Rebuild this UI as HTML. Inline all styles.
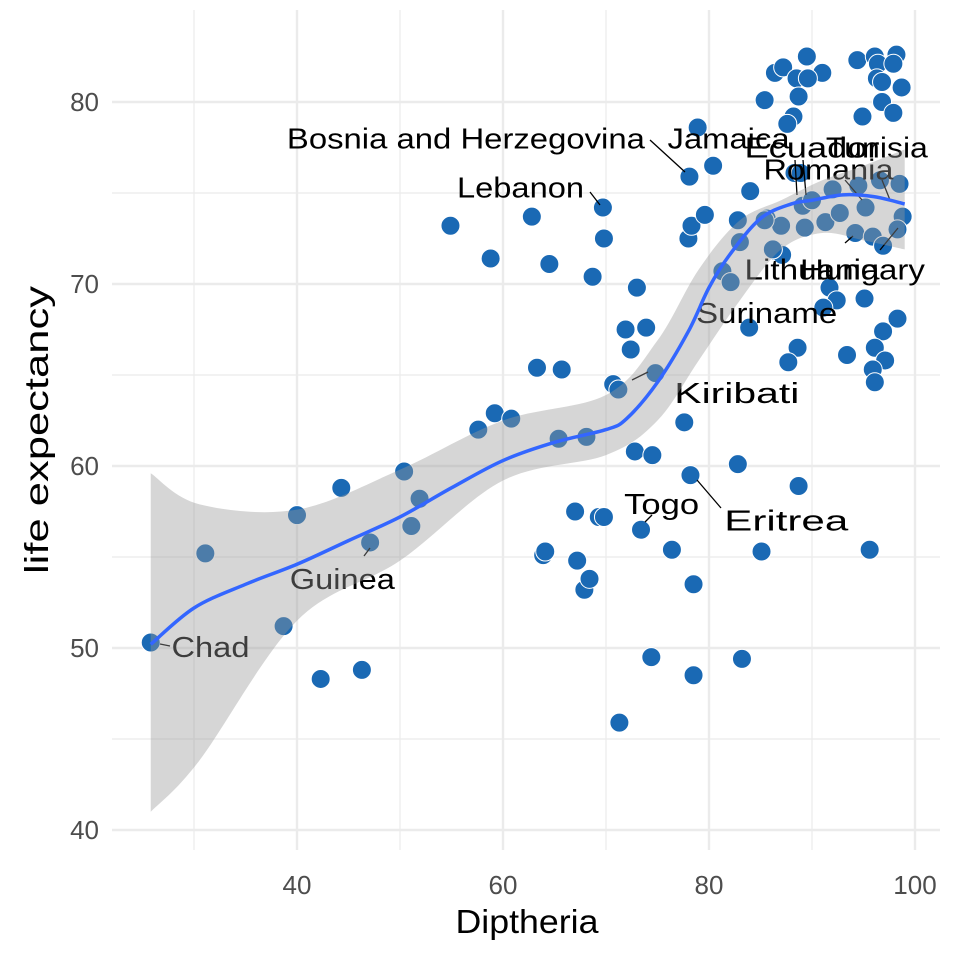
<!DOCTYPE html>
<html><head><meta charset="utf-8"><style>
html,body{margin:0;padding:0;background:#fff;}
svg{display:block;font-family:"Liberation Sans",Arial,sans-serif;}
</style></head><body>
<svg id="chart" width="960" height="960" viewBox="0 0 960 960">
<g id="grid"></g>
<g id="pts"></g>
<g id="labs"></g>
<g id="smooth"></g>
<g id="axes"></g>
<text x="527" y="933" font-size="33" text-anchor="middle" fill="#000" textLength="143" lengthAdjust="spacingAndGlyphs">Diptheria</text>
<text x="0" y="0" font-size="33" text-anchor="middle" fill="#000" textLength="288" lengthAdjust="spacingAndGlyphs" transform="translate(48,430) rotate(-90)">life expectancy</text>
</svg>
<script>
const xTicks=[40,60,80,100];
const yTicks=[40,50,60,70,80];
const xMinor=[30,50,70,90];
const yMinor=[45,55,65,75];
const ptX=[25.8,31.1,40.0,38.7,42.3,44.3,46.3,47.1,50.4,51.1,51.9,54.9,57.6,58.8,59.2,60.8,62.8,63.3,63.9,64.1,64.5,65.4,65.7,67.0,67.2,67.9,68.1,68.4,68.7,69.7,69.3,69.8,69.8,70.7,71.2,71.3,71.9,72.4,72.8,73.0,73.4,73.9,74.5,74.4,74.8,76.4,77.6,78.1,78.0,78.3,78.2,78.5,78.5,78.9,79.6,80.4,81.3,82.1,82.8,82.8,83.0,83.2,83.9,84.0,85.1,85.6,86.5,87.0,87.1,88.3,88.7,89.1,89.5,86.4,87.2,91.0,88.5,89.6,85.4,88.7,88.2,87.6,94.4,96.1,98.2,96.4,97.9,96.3,96.8,98.7,96.8,97.9,94.9,85.4,89.3,91.3,92.7,94.2,95.9,96.9,98.8,98.3,86.2,91.7,92.4,95.1,91.1,98.3,96.9,96.1,88.6,97.1,93.4,87.7,95.9,96.1,95.6,92.0,94.5,96.6,98.5,95.2,90.0,88.9];
const ptY=[50.3,55.2,57.3,51.2,48.3,58.8,48.8,55.8,59.7,56.7,58.2,73.2,62.0,71.4,62.9,62.6,73.7,65.4,55.1,55.3,71.1,61.5,65.3,57.5,54.8,53.2,61.6,53.8,70.4,74.2,57.2,57.2,72.5,64.5,64.2,45.9,67.5,66.4,60.8,69.8,56.5,67.6,60.6,49.5,65.1,55.4,62.4,75.9,72.5,73.2,59.5,53.5,48.5,78.6,73.8,76.5,70.7,70.1,73.5,60.1,72.3,49.4,67.6,75.1,55.3,73.6,71.8,73.2,71.6,76.1,58.9,74.3,82.5,81.6,81.9,81.6,81.3,81.3,80.1,80.3,79.2,78.8,82.3,82.5,82.6,82.1,82.1,81.3,81.1,80.8,80.0,79.4,79.2,73.5,73.1,73.4,73.9,72.8,72.6,72.1,73.7,73.0,71.9,69.8,69.1,69.2,68.7,68.1,67.4,66.5,66.5,65.8,66.1,65.7,65.3,64.6,55.4,75.2,75.4,75.7,75.5,74.2,74.6,76.1];
const fitX=[25.8,30,35,40,45,50,55,60,65,70,72,75,78,80,82,85,88,90,93,96,99];
const fitY=[50.2,52.2,53.5,54.6,55.9,57.2,58.8,60.3,61.3,62.0,62.6,64.6,67.4,69.8,71.6,73.6,74.4,74.6,74.9,74.8,74.4];
const bandX=[25.8,30.5,40,50,60,70,75,79,83,87,91,95,99];
const bandLo=[41.0,43.8,51.5,54.8,59.2,60.6,62.5,65.8,69.1,71.9,72.8,72.4,71.9];
const bandHi=[59.6,57.9,57.6,59.8,62.5,63.9,66.9,70.8,73.5,74.6,75.7,76.5,77.4];
const labelNames=["Bosnia and Herzegovina","Jamaica","Ecuador","Tunisia","Romania","Lebanon","Lithuania","Hungary","Suriname","Kiribati","Togo","Eritrea","Guinea","Chad"];
const labelX=[56.4,81.9,90.0,96.3,91.6,61.7,90.0,94.9,85.6,82.7,75.4,87.5,44.4,31.6];
const labelY=[78.0,78.0,77.5,77.5,76.3,75.3,70.8,70.8,68.4,64.0,57.9,57.0,53.8,50.05];
const labelW=[358,122,135,102,130,127,135,125,141,125,75,124,105,78];
const X=v=>297+(v-40)*10.3;
const Y=v=>102-(v-80)*18.2;
const NS="http://www.w3.org/2000/svg";
function mk(t,p,a){const e=document.createElementNS(NS,t);for(const k in a)e.setAttribute(k,a[k]);p.appendChild(e);return e;}
function curve(pts,move){let d=(move?'M':'L')+pts[0][0]+','+pts[0][1];
for(let i=0;i<pts.length-1;i++){const p0=pts[i-1]||pts[i],p1=pts[i],p2=pts[i+1],p3=pts[i+2]||p2;
d+=' C'+(p1[0]+(p2[0]-p0[0])/6)+','+(p1[1]+(p2[1]-p0[1])/6)+' '+(p2[0]-(p3[0]-p1[0])/6)+','+(p2[1]-(p3[1]-p1[1])/6)+' '+p2[0]+','+p2[1];}
return d;}
const grid=document.getElementById('grid');
xMinor.forEach(v=>{const l=mk('line',grid,{x1:X(v),x2:X(v),y1:10,y2:850,stroke:'#ebebeb','stroke-width':1.2});

});
yMinor.forEach(v=>{const l=mk('line',grid,{x1:112,x2:940,y1:Y(v),y2:Y(v),stroke:'#ebebeb','stroke-width':1.2});

});
xTicks.forEach(v=>{const l=mk('line',grid,{x1:X(v),x2:X(v),y1:10,y2:850,stroke:'#ebebeb','stroke-width':2.4});

});
yTicks.forEach(v=>{const l=mk('line',grid,{x1:112,x2:940,y1:Y(v),y2:Y(v),stroke:'#ebebeb','stroke-width':2.4});

});
const axes=document.getElementById('axes');
xTicks.forEach(v=>{const t=mk('text',axes,{x:X(v),y:894,'font-size':26,'text-anchor':'middle',fill:'#4d4d4d'});t.textContent=v;

});
yTicks.forEach(v=>{const t=mk('text',axes,{x:99,y:Y(v)+9,'font-size':26,'text-anchor':'end',fill:'#4d4d4d'});t.textContent=v;

});
const pts=document.getElementById('pts');
ptX.forEach((v,i)=>{const c=mk('circle',pts,{cx:X(v),cy:Y(ptY[i]),r:9.5,fill:'#1a69b4',stroke:'#fff','stroke-width':1});

});
const labs=document.getElementById('labs');
const segs=[[650,140,685,172],[590,192,600,205],[795,160,797,195],[803,160,806,195],[845,180,862,200],[882,180,890,200],[845,243,853,236],[880,250,898,228],[632,380,648,372],[645,522,652,515],[697,480,721,508],[370,548,364,556],[160,644,170,646]];
segs.forEach(s=>{const l=mk('line',labs,{x1:s[0],y1:s[1],x2:s[2],y2:s[3],stroke:'#000','stroke-width':1.3});

});
labelNames.forEach((n,i)=>{const t=mk('text',labs,{x:X(labelX[i]),y:Y(labelY[i])+10,'font-size':29,'text-anchor':'middle',fill:'#000',textLength:labelW[i],lengthAdjust:'spacingAndGlyphs'});t.textContent=n;

});
const sm=document.getElementById('smooth');
const hi=bandX.map((v,i)=>[X(v),Y(bandHi[i])]);
const lo=bandX.map((v,i)=>[X(v),Y(bandLo[i])]).reverse();
const band=mk('path',sm,{d:curve(hi,true)+' '+curve(lo,false)+'Z',fill:'rgba(153,153,153,0.4)',stroke:'none'});


const line=mk('path',sm,{d:curve(fitX.map((v,i)=>[X(v),Y(fitY[i])]),true),fill:'none',stroke:'#3366ff','stroke-width':3.5,'stroke-linejoin':'round'});


</script>
</body></html>
